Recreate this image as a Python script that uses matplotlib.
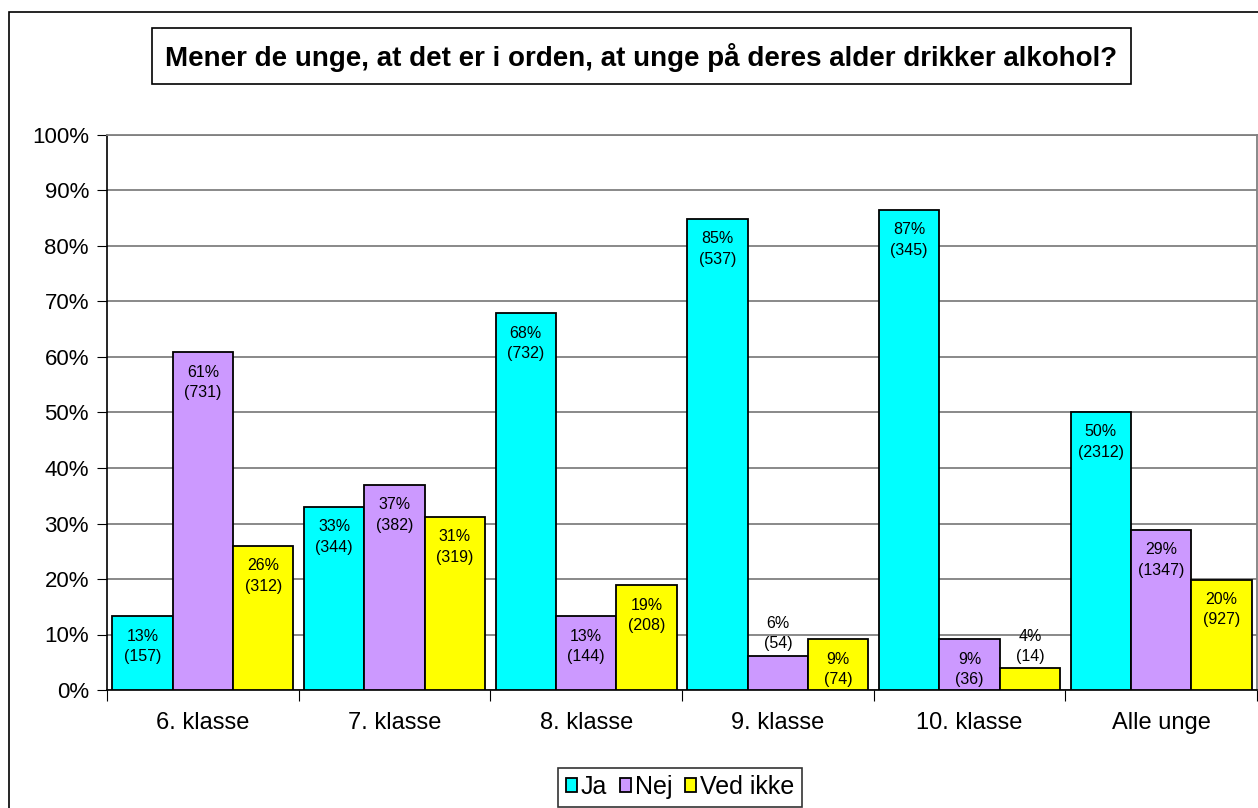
import numpy as np
import matplotlib.pyplot as plt
from matplotlib.patches import Rectangle

plt.rcParams['font.family'] = ['Liberation Sans', 'DejaVu Sans']

categories = ['6. klasse', '7. klasse', '8. klasse', '9. klasse', '10. klasse', 'Alle unge']
series = ['Ja', 'Nej', 'Ved ikke']
ja_pct = [13.3, 33.0, 67.9, 84.9, 86.5, 50.1]
nej_pct = [60.9, 37.0, 13.3, 6.2, 9.1, 28.9]
vedikke_pct = [26.0, 31.2, 18.9, 9.1, 3.9, 19.9]
ja_lbl = ['13%', '33%', '68%', '85%', '87%', '50%']
nej_lbl = ['61%', '37%', '13%', '6%', '9%', '29%']
vedikke_lbl = ['26%', '31%', '19%', '9%', '4%', '20%']
ja_n = [157, 344, 732, 537, 345, 2312]
nej_n = [731, 382, 144, 54, 36, 1347]
vedikke_n = [312, 319, 208, 74, 14, 927]

colors = ['#00FFFF', '#CC99FF', '#FFFF00']
W, H = 1258, 808

fig = plt.figure(figsize=(W / 100, H / 100), dpi=100)
ax = fig.add_axes([107 / W, 1 - 690 / H, 1150 / W, 555 / H])

# outer chart border
fig.patches.append(Rectangle((9 / W, -0.1), 1.2, 1 - 12 / H + 0.1,
                             transform=fig.transFigure, fill=False,
                             edgecolor='black', linewidth=1.2))

x = np.arange(len(categories))
w = 0.315
data = [(ja_pct, ja_lbl, ja_n), (nej_pct, nej_lbl, nej_n), (vedikke_pct, vedikke_lbl, vedikke_n)]
for k, (vals, lbls, ns) in enumerate(data):
    pos = x + (k - 1) * w
    ax.bar(pos, vals, w, color=colors[k], edgecolor='black', linewidth=1.3,
           label=series[k], zorder=3)
    for xi, v, l, n in zip(pos, vals, lbls, ns):
        txt = '%s\n(%d)' % (l, n)
        if v < 8:
            ax.annotate(txt, (xi, v), xytext=(0, 3), textcoords='offset points',
                        ha='center', va='bottom', fontsize=11.5, linespacing=1.45, zorder=4)
        else:
            ax.annotate(txt, (xi, v), xytext=(0, -9), textcoords='offset points',
                        ha='center', va='top', fontsize=11.5, linespacing=1.45, zorder=4)

ax.set_xlim(-0.5, len(categories) - 0.5)
ax.set_ylim(0, 100)
ax.set_yticks(np.arange(0, 101, 10))
ax.set_yticklabels(['%d%%' % t for t in range(0, 101, 10)], fontsize=16)
ax.yaxis.grid(True, color='#808080', linewidth=1.3, zorder=0)
ax.set_axisbelow(True)

ax.set_xticks(np.arange(len(categories) + 1) - 0.5)
ax.set_xticklabels([])
ax.set_xticks(x, minor=True)
ax.set_xticklabels(categories, minor=True, fontsize=17)
ax.tick_params(axis='x', which='minor', length=0, pad=16)
ax.tick_params(axis='x', which='major', length=8, direction='out', color='black')
ax.tick_params(axis='y', length=7, direction='out', pad=6)

for s in ['left', 'bottom']:
    ax.spines[s].set_color('black')
    ax.spines[s].set_linewidth(1.2)
for s in ['top', 'right']:
    ax.spines[s].set_color('#808080')
    ax.spines[s].set_linewidth(1.3)

# title with its own box
fig.patches.append(Rectangle((152 / W, 1 - 84 / H), (1131 - 152) / W, 56 / H,
                             transform=fig.transFigure, facecolor='white',
                             edgecolor='black', linewidth=1.2))
fig.text(641 / W, 1 - 57 / H,
         'Mener de unge, at det er i orden, at unge på deres alder drikker alkohol?',
         ha='center', va='center', fontsize=20, fontweight='bold')

leg = fig.legend(loc='center', bbox_to_anchor=(680 / W, 1 - 787 / H), ncol=3,
                 fontsize=18, frameon=True, fancybox=False, edgecolor='black',
                 handlelength=0.45, handleheight=0.5, handletextpad=0.15,
                 columnspacing=0.5, borderpad=0.3)
leg.get_frame().set_linewidth(1.2)

fig.savefig('out.png', dpi=100)
